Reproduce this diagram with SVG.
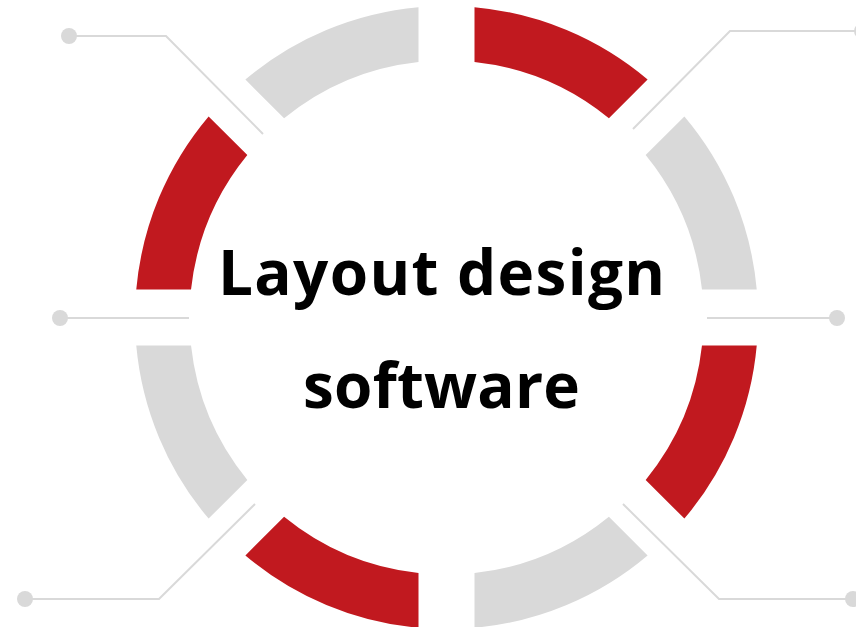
<svg xmlns="http://www.w3.org/2000/svg" width="856" height="627" viewBox="0 0 856 627">
  <style>
    .red { fill: #C1191F; }
    .gray { fill: #D9D9D9; }
    .conn { fill: none; stroke: #D9D9D9; stroke-width: 2; }
    .dot { fill: #D9D9D9; }
    .title { font-family: "Open Sans", "Noto Sans", "DejaVu Sans", sans-serif; font-weight: 700; font-size: 62px; fill: #000000; }
  </style>
  <defs>
    <path id="segA" d="M 28,-310.24 A 311.5 311.5 0 0 1 201.11,-237.88 L 162.41,-199.18 A 257 257 0 0 0 28,-255.47 Z"/>
    <path id="segB" d="M 237.88,-201.11 A 311.5 311.5 0 0 1 310.24,-28 L 255.47,-28 A 257 257 0 0 0 199.18,-162.41 Z"/>
  </defs>
  <g id="connectors">
    <polyline class="conn" points="69,36 166,36 263,134"/>
    <circle class="dot" cx="69" cy="36" r="8"/>
    <polyline class="conn" points="633,129 730,31 862,31"/>
    <circle class="dot" cx="862" cy="31" r="8"/>
    <polyline class="conn" points="60,318 189,318"/>
    <circle class="dot" cx="60" cy="318" r="8"/>
    <polyline class="conn" points="707,318 837,318"/>
    <circle class="dot" cx="837" cy="318" r="8"/>
    <polyline class="conn" points="25,599 159,599 255,504"/>
    <circle class="dot" cx="25" cy="599" r="8"/>
    <polyline class="conn" points="623,504 719,599 853,599"/>
    <circle class="dot" cx="853" cy="599" r="8"/>
  </g>
  <g id="ring" transform="translate(446.5,317.5)">
    <g id="seg-n-ne"><use href="#segA" class="red"/></g>
    <g id="seg-ne-e"><use href="#segB" class="gray"/></g>
    <g id="seg-e-se"><use href="#segA" class="red" transform="rotate(90)"/></g>
    <g id="seg-se-s"><use href="#segB" class="gray" transform="rotate(90)"/></g>
    <g id="seg-s-sw"><use href="#segA" class="red" transform="rotate(180)"/></g>
    <g id="seg-sw-w"><use href="#segB" class="gray" transform="rotate(180)"/></g>
    <g id="seg-w-nw"><use href="#segA" class="red" transform="rotate(270)"/></g>
    <g id="seg-nw-n"><use href="#segB" class="gray" transform="rotate(270)"/></g>
  </g>
  <g id="center-title">
    <text class="title" x="218" y="295" textLength="447" lengthAdjust="spacing">Layout design</text>
    <text class="title" x="303" y="408" textLength="277" lengthAdjust="spacing">software</text>
  </g>
</svg>
